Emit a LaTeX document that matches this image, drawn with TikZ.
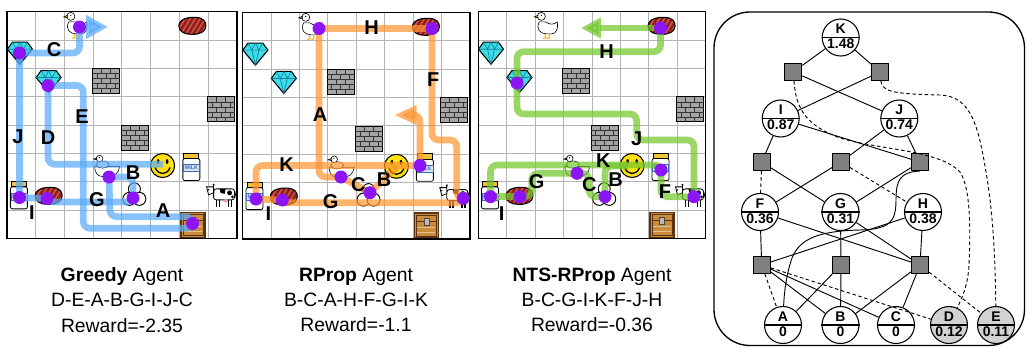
\documentclass[tikz,border=0pt]{standalone}
\usepackage{fontspec}
\setmainfont{Liberation Sans}
\usetikzlibrary{arrows.meta}

\definecolor{routeblue}{RGB}{90,170,250}
\definecolor{routeorange}{RGB}{255,150,50}
\definecolor{routegreen}{RGB}{115,200,45}
\definecolor{visit}{RGB}{140,20,245}
\definecolor{cellgray}{RGB}{180,180,180}
\definecolor{sqgray}{RGB}{128,128,128}
\definecolor{leafgray}{RGB}{210,210,210}
\definecolor{brickgray}{RGB}{165,165,165}
\definecolor{steakred}{RGB}{140,32,26}
\definecolor{steakstripe}{RGB}{210,85,75}
\definecolor{gemcyan}{RGB}{60,220,235}
\definecolor{gemdark}{RGB}{20,130,150}
\definecolor{sunyellow}{RGB}{255,225,20}
\definecolor{lidyellow}{RGB}{240,195,60}
\definecolor{milkblue}{RGB}{60,110,190}
\definecolor{chestbrown}{RGB}{200,140,60}
\definecolor{chestdark}{RGB}{90,50,15}
\definecolor{beak}{RGB}{245,190,30}
\definecolor{udder}{RGB}{240,160,180}

\tikzset{
  cellline/.style={draw=cellgray, line width=0.75pt},
  frame/.style={draw=black, line width=1.1pt},
  route/.style={line width=5pt, opacity=0.72, rounded corners=5pt},
  routeA/.style={route, draw=routeblue, color=routeblue},
  routeB/.style={route, draw=routeorange, color=routeorange},
  routeC/.style={route, draw=routegreen, color=routegreen},
  visitdot/.style={circle, fill=visit, minimum size=9.75pt, inner sep=0pt},
  plabel/.style={font=\fontsize{15}{15}\selectfont\bfseries, inner sep=0pt},
  caption/.style={font=\fontsize{14.5}{19}\selectfont, align=center, inner sep=0pt},
  tcirc/.style={circle, draw, line width=0.8pt, minimum size=27.75pt, inner sep=0pt},
  tsq/.style={rectangle, draw, line width=0.8pt, fill=sqgray, minimum size=12.75pt, inner sep=0pt},
  tlab/.style={font=\fontsize{10.5}{11}\selectfont\bfseries, inner sep=0pt},
  tedge/.style={line width=0.7pt},
  tdash/.style={line width=0.7pt, dash pattern=on 2.6pt off 2pt},
  % grid icons, drawn in pixel-like units around the cell centre
  duck/.pic={
    \begin{scope}[x=0.75pt,y=-0.75pt,line width=0.45pt]
      \filldraw[fill=white] (-10,-4) .. controls (-14,3) and (-9,8) .. (-3,8) -- (2,8) .. controls (7,8) and (9,3) .. (8,-4) .. controls (5,-1) and (0,-1) .. (-4,-4) -- cycle;
      \filldraw[fill=white] (-8,-9.5) circle[radius=4];
      \filldraw[fill=beak] (-11.5,-10.5) -- (-15,-9) -- (-11.5,-8) -- cycle;
      \fill (-8,-10.5) circle[radius=0.7];
      \draw[beak,line width=1pt] (-4,8) -- (-4,12) -- (-6.5,12.5) (0,8) -- (0,12) -- (-2.5,12.5);
    \end{scope}},
  duckling/.pic={
    \begin{scope}[x=0.75pt,y=-0.75pt,line width=0.45pt]
      \filldraw[fill=white] (-13,-1) -- (12,-1) .. controls (11,6) and (7,9) .. (0,9) -- (-5,9) .. controls (-10,9) and (-13,5) .. (-13,-1) -- cycle;
      \filldraw[fill=white] (-5,-3) ellipse[x radius=6.5, y radius=3.5];
      \filldraw[fill=white] (-8,-9) circle[radius=3.3];
      \filldraw[fill=beak] (-11,-9.7) -- (-14,-8.5) -- (-11,-7.8) -- cycle;
      \fill (-8.3,-9.8) circle[radius=0.6];
    \end{scope}},
  smiley/.pic={
    \begin{scope}[x=0.75pt,y=-0.75pt]
      \filldraw[fill=sunyellow, line width=0.8pt] (-2.5,-2) circle[radius=12];
      \fill (-7,-6) ellipse[x radius=1.4, y radius=2.4];
      \fill (2,-6) ellipse[x radius=1.4, y radius=2.4];
      \draw[line width=1pt] (-10,0) .. controls (-7,8) and (2,8) .. (5,0);
    \end{scope}},
  milk/.pic={
    \begin{scope}[x=0.75pt,y=-0.75pt,line width=0.6pt]
      \filldraw[fill=white, rounded corners=1.5pt] (-11,-9) rectangle (6,13);
      \filldraw[fill=lidyellow] (-10,-14.5) rectangle (5,-9);
      \filldraw[fill=milkblue!20, draw=milkblue, line width=0.4pt] (-10.5,-3) rectangle (5.5,4);
      \node[font=\fontsize{4}{4}\selectfont\bfseries, text=milkblue, inner sep=0pt] (milktag) at (-2.5,0.5) {MILK};
    \end{scope}},
  steak/.pic={
    \begin{scope}[x=0.75pt,y=-0.75pt]
      \fill[steakred] (-15,0) .. controls (-15,-7) and (-5,-9) .. (2,-8.5) .. controls (10,-8) and (12,-4) .. (12,0) .. controls (12,6) and (6,8.5) .. (-2,8.5) .. controls (-9,8.5) and (-15,6) .. (-15,0) -- cycle;
      \begin{scope}
        \clip (-15,0) .. controls (-15,-7) and (-5,-9) .. (2,-8.5) .. controls (10,-8) and (12,-4) .. (12,0) .. controls (12,6) and (6,8.5) .. (-2,8.5) .. controls (-9,8.5) and (-15,6) .. (-15,0) -- cycle;
        \foreach \s in {-24,-19,...,12} \draw[steakstripe, line width=1.1pt] (\s,10) -- (\s+12,-10);
      \end{scope}
      \draw[line width=0.8pt] (-15,0) .. controls (-15,-7) and (-5,-9) .. (2,-8.5) .. controls (10,-8) and (12,-4) .. (12,0) .. controls (12,6) and (6,8.5) .. (-2,8.5) .. controls (-9,8.5) and (-15,6) .. (-15,0) -- cycle;
    \end{scope}},
  gem/.pic={
    \begin{scope}[x=0.75pt,y=-0.75pt]
      \filldraw[fill=gemcyan, line width=0.8pt] (-14,-5) -- (-9,-12) -- (6,-12) -- (11,-5) -- (-1.5,10) -- cycle;
      \draw[gemdark, line width=0.5pt] (-14,-5) -- (11,-5) (-9,-12) -- (-5,-5) -- (-1.5,-12) -- (2,-5) -- (6,-12) (-5,-5) -- (-1.5,10) -- (2,-5);
    \end{scope}},
  bricks/.pic={
    \begin{scope}[x=0.75pt,y=-0.75pt]
      \filldraw[fill=brickgray, line width=0.7pt] (-15,-14) rectangle (12,11);
      \draw[black!80, line width=0.5pt] (-15,-9) -- (12,-9) (-15,-4) -- (12,-4) (-15,1) -- (12,1) (-15,6) -- (12,6)
        (-6,-14) -- (-6,-9) (3,-14) -- (3,-9)
        (-10.5,-9) -- (-10.5,-4) (-1.5,-9) -- (-1.5,-4) (7.5,-9) -- (7.5,-4)
        (-6,-4) -- (-6,1) (3,-4) -- (3,1)
        (-10.5,1) -- (-10.5,6) (-1.5,1) -- (-1.5,6) (7.5,1) -- (7.5,6)
        (-6,6) -- (-6,11) (3,6) -- (3,11);
    \end{scope}},
  cloud/.pic={
    \begin{scope}[x=0.75pt,y=-0.75pt,line width=0.7pt]
      \filldraw[fill=white] (-2,-7) circle[radius=6];
      \filldraw[fill=white] (-7,3) circle[radius=6.5];
      \filldraw[fill=white] (3,3) circle[radius=6.5];
    \end{scope}},
  cow/.pic={
    \begin{scope}[x=0.75pt,y=-0.75pt,line width=0.6pt]
      \draw[line width=1.3pt] (-6,3) -- (-6,11) (-3,3) -- (-3,11) (6,3) -- (6,11) (9,3) -- (9,11);
      \filldraw[fill=white, rounded corners=2pt] (-9,-7) rectangle (12,4);
      \fill (-3,-7) -- (3,-7) -- (2,-2) -- (-2,-3) -- cycle;
      \fill (7,-3) circle[radius=2.5];
      \fill (10,1) circle[radius=1.5];
      \fill[udder] (3,5) ellipse[x radius=2.5, y radius=1.8];
      \filldraw[fill=white] (-16,-9) -- (-9,-9) -- (-9,-3) -- (-14,-1) -- cycle;
      \fill (-10,-12) -- (-8,-12) -- (-9,-8) -- cycle;
      \fill (-14,-6) circle[radius=0.8];
      \draw (12,-5) -- (14,3);
    \end{scope}},
  chest/.pic={
    \begin{scope}[x=0.75pt,y=-0.75pt]
      \filldraw[fill=chestbrown, draw=chestdark, line width=1pt] (-13,-12) rectangle (11,13);
      \draw[chestdark, line width=0.5pt] (-11,-4) -- (9,-4) (-11,-10) rectangle (9,11);
      \draw[chestbrown!55!white, line width=0.5pt] (-10,2) -- (8,2) (-10,7) -- (8,7);
      \filldraw[fill=gray!55, draw=black!70, line width=0.4pt] (-3.5,-7) rectangle (1.5,0);
    \end{scope}},
}

% one 8x8 world: origin x, origin y, cell width, cell height
\newcommand{\worldgrid}[4]{%
  \begin{scope}[shift={(#1,#2)},x=#3,y=#4]
    \foreach \k in {1,...,7}{\draw[cellline] (\k,0) -- (\k,8) (0,\k) -- (8,\k);}
    \pic at (2.5,0.5) {duck};
    \pic at (6.5,0.5) {steak};
    \pic at (0.5,1.5) {gem};
    \pic at (1.5,2.5) {gem};
    \pic at (3.5,2.5) {bricks};
    \pic at (7.5,3.5) {bricks};
    \pic at (4.5,4.5) {bricks};
    \pic at (3.5,5.5) {duckling};
    \pic at (5.5,5.5) {smiley};
    \pic at (6.5,5.5) {milk};
    \pic at (0.5,6.5) {milk};
    \pic at (1.5,6.5) {steak};
    \pic at (4.5,6.5) {cloud};
    \pic at (7.5,6.5) {cow};
    \pic at (6.5,7.5) {chest};
    \draw[frame] (0,0) rectangle (8,8);
  \end{scope}}

% tree node split into a letter and a value
\newcommand{\treenode}[6]{%
  \node[tcirc, fill=#6] (#1) at (#2,#3) {};
  \draw[line width=0.8pt] (#1.west) -- (#1.east);
  \node[tlab] (#1-l) at ([yshift=6.6pt]#1.center) {#4};
  \node[tlab] (#1-v) at ([yshift=-5pt]#1.center) {#5};}

\begin{document}
\begin{tikzpicture}[x=0.75pt,y=-0.75pt]
\useasboundingbox (0,0) rectangle (1026,347);

\worldgrid{7}{11.7}{21.56pt}{-21.25pt}
\worldgrid{242.7}{12.7}{21.31pt}{-21.22pt}
\worldgrid{478.3}{11.7}{21.32pt}{-21.25pt}

% ---- greedy agent route
\coordinate (g1s) at (163,164.3);
\coordinate (g1a) at (79.5,27);
\coordinate (g1b) at (19.5,53);
\coordinate (g1c) at (48,85.5);
\coordinate (g1d) at (109,177);
\coordinate (g1e) at (133,198);
\coordinate (g1f) at (19.5,197.5);
\coordinate (g1g) at (47,198.5);
\coordinate (g1h) at (192.5,223.5);
\draw[routeA] (g1s) -- (48,164.3) -- (g1c);
\draw[routeA] (g1c) -- (83.3,85.5) -- (83.3,228.3) -- (192.5,228.3) -- (g1h);
\draw[routeA] (g1h) |- (110,216.7) -- (g1d);
\draw[routeA] (g1d) -| (g1e);
\draw[routeA] (g1e) -- (133,202) -- (47,202) -- (g1g);
\draw[routeA] (g1g) -- (g1f);
\draw[routeA] (g1f) -- (g1b);
\draw[routeA, -{Triangle[length=16.5pt,width=17pt]}] (g1b) -| (g1a) -- (108,27);

% ---- RProp agent route
\coordinate (g2s) at (397,167);
\coordinate (g2a) at (319,28.5);
\coordinate (g2b) at (432,28.5);
\coordinate (g2c) at (341,177);
\coordinate (g2d) at (370,192.7);
\coordinate (g2e) at (420,165.5);
\coordinate (g2f) at (256,199);
\coordinate (g2g) at (282.3,200);
\coordinate (g2h) at (463.3,198.3);
\draw[routeB] (g2s) -- (g2d);
\draw[routeB] (g2d) -- (g2c);
\draw[routeB] (g2c) -| (g2a);
\draw[routeB] (g2a) -- (g2b);
\draw[routeB] (g2b) -- (432,140) -- (456.7,140) -- (456.7,198.3) -- (g2h);
\draw[routeB] (g2h) -- (463.3,202.7) -- (282.3,202.7) -- (g2g);
\draw[routeB] (g2g) -- (g2f);
\draw[routeB, -{Triangle[length=17pt,width=13.5pt]}] (g2f) |- (g2e) -- (420,115) -- (394,115);

% ---- NTS-RProp agent route
\coordinate (g3s) at (628,166);
\coordinate (g3a) at (660.5,28);
\coordinate (g3b) at (517,83);
\coordinate (g3c) at (577,173.3);
\coordinate (g3d) at (605,196.7);
\coordinate (g3e) at (661,170);
\coordinate (g3f) at (490.5,196.7);
\coordinate (g3g) at (520,196.7);
\coordinate (g3h) at (694,196.7);
\draw[routeC] (g3s) -| (g3d);
\draw[routeC] (g3d) -| (589,173.3) -- (g3c);
\draw[routeC] (g3c) -- (531.7,173.3) -- (531.7,196.7) -- (g3g);
\draw[routeC] (g3g) -- (g3f);
\draw[routeC] (g3f) |- (661,165) -- (g3e);
\draw[routeC] (g3e) |- (g3h);
\draw[routeC] (g3h) -- (694,140) -- (636.7,140) -- (636.7,114) -- (517,114) -- (g3b);
\draw[routeC] (g3b) |- (660.5,51.7) -- (g3a);
\draw[routeC, -{Triangle[length=15pt,width=15pt]}] (g3a) -- (581,28);

% ---- visited items
\foreach \p in {g1a,g1b,g1c,g1d,g1e,g1f,g1g,g1h,g2a,g2b,g2c,g2d,g2e,g2f,g2g,g2h,g3a,g3b,g3c,g3d,g3e,g3f,g3g,g3h}
  \node[visitdot] (\p-dot) at (\p) {};

% ---- route labels
\node[plabel] (l1C) at (54,50) {C};
\node[plabel] (l1J) at (18,137) {J};
\node[plabel] (l1D) at (48,138) {D};
\node[plabel] (l1E) at (82,117) {E};
\node[plabel] (l1B) at (133,173) {B};
\node[plabel] (l1G) at (97,200) {G};
\node[plabel] (l1A) at (163,211) {A};
\node[plabel] (l1I) at (32,213) {I};

\node[plabel] (l2H) at (371.7,27.3) {H};
\node[plabel] (l2F) at (433.3,80) {F};
\node[plabel] (l2A) at (320,115) {A};
\node[plabel] (l2K) at (286.7,164.3) {K};
\node[plabel] (l2C) at (358.3,185) {C};
\node[plabel] (l2B) at (384,180) {B};
\node[plabel] (l2G) at (330.7,201.7) {G};
\node[plabel] (l2I) at (268.3,213.3) {I};

\node[plabel] (l3H) at (606.7,51.7) {H};
\node[plabel] (l3J) at (636.7,138.3) {J};
\node[plabel] (l3K) at (603.3,160.7) {K};
\node[plabel] (l3G) at (536.7,181.7) {G};
\node[plabel] (l3C) at (589.3,185) {C};
\node[plabel] (l3B) at (615.7,180) {B};
\node[plabel] (l3F) at (665,191.7) {F};
\node[plabel] (l3I) at (501.7,213.3) {I};

% ---- captions
\node[caption] (cap1) at (122,300) {\textbf{Greedy} Agent\\D-E-A-B-G-I-J-C\\Reward=-2.35};
\node[caption] (cap2) at (356,300) {\textbf{RProp} Agent\\B-C-A-H-F-G-I-K\\Reward=-1.1};
\node[caption] (cap3) at (592,300) {\textbf{NTS-RProp} Agent\\B-C-G-I-K-F-J-H\\Reward=-0.36};

% ---- search tree panel
\draw[line width=1pt, rounded corners=27pt] (714,12) rectangle (1024.5,345.5);

\treenode{K}{840.7}{37.5}{K}{1.48}{white}
\node[tsq] (s1) at (793.3,72) {};
\node[tsq] (s2) at (880,72) {};
\treenode{I}{780.7}{118.5}{I}{0.87}{white}
\treenode{J}{899.3}{118.5}{J}{0.74}{white}
\node[tsq] (m1) at (761.7,162) {};
\node[tsq] (m2) at (841,162) {};
\node[tsq] (m3) at (920,162) {};
\treenode{F}{760}{212}{F}{0.36}{white}
\treenode{G}{840.5}{212}{G}{0.31}{white}
\treenode{H}{923}{212}{H}{0.38}{white}
\node[tsq] (b1) at (761.7,265) {};
\node[tsq] (b2) at (841,265) {};
\node[tsq] (b3) at (920,265) {};
\treenode{A}{783}{325}{A}{0}{white}
\treenode{B}{840.5}{325}{B}{0}{white}
\treenode{C}{896}{325}{C}{0}{white}
\treenode{D}{949}{325}{D}{0.12}{leafgray}
\treenode{E}{996}{325}{E}{0.11}{leafgray}

\draw[tedge] (K) -- (s1);
\draw[tedge] (K) -- (s2);
\draw[tedge] (s1) -- (J);
\draw[tedge] (s2) -- (I);
\draw[tedge] (I) -- (m1);
\draw[tedge] (I) -- (m3);
\draw[tedge] (J) -- (m2);
\draw[tedge] (J) -- (m3);
\draw[tedge] (m1) -- (G);
\draw[tedge] (m2) -- (F);
\draw[tedge] (m3) -- (G);
\draw[tedge] (F) -- (b1);
\draw[tedge] (F) -- (b3);
\draw[tedge] (G) -- (b2);
\draw[tedge] (G) -- (b3);
\draw[tedge] (H) -- (b3);
\draw[tedge] (H) -- (b1);
\draw[tedge] (b1) -- (B);
\draw[tedge] (b1) -- (C);
\draw[tedge] (b2) -- (A);
\draw[tedge] (b2) -- (B);
\draw[tedge] (b3) -- (B);
\draw[tedge] (b3) -- (C);
\draw[tedge] (m3.south) .. controls (900,172) and (896,180) .. (896,200)
  .. controls (896,222) and (890,229) .. (860,230)
  .. controls (820,231) and (800,238) .. (792,258)
  .. controls (786,275) and (784,295) .. (A);

\draw[tdash] (m1) -- (F);
\draw[tdash] (m2) -- (H);
\draw[tdash] (b1) -- (A);
\draw[tdash] (b1) -- (D);
\draw[tdash] (b3) -- (E);
\draw[tdash] (s1) .. controls (796,108) and (805,125) .. (840,138)
  .. controls (880,150) and (940,150) .. (960,172)
  .. controls (972,190) and (970,240) .. (969,265)
  .. controls (968,285) and (962,298) .. (D);
\draw[tdash] (s2) .. controls (882,92) and (895,94) .. (940,95)
  .. controls (965,96) and (975,115) .. (982,150)
  .. controls (990,190) and (995,230) .. (E);
\end{tikzpicture}
\end{document}
